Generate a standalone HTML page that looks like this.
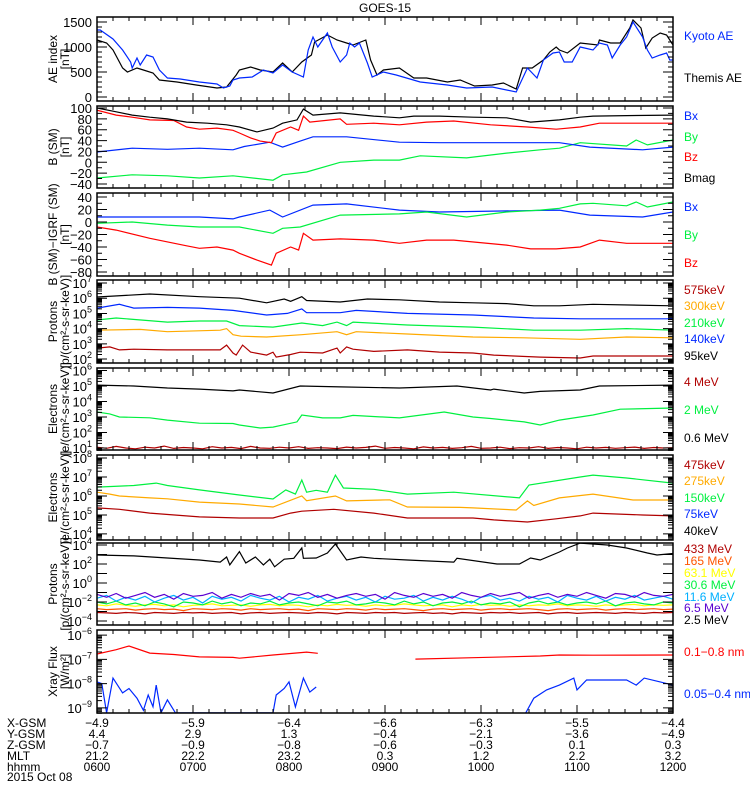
<!DOCTYPE html>
<html><head><meta charset="utf-8"><title>GOES-15</title>
<style>
html,body{margin:0;padding:0;background:#fff;}
svg{display:block;font-family:"Liberation Sans",sans-serif;}
</style></head>
<body>
<svg id="chart" width="750" height="800" viewBox="0 0 750 800" xmlns="http://www.w3.org/2000/svg">
<rect x="0" y="0" width="750" height="800" fill="#fff"/>
<text x="385" y="12" font-size="12" text-anchor="middle">GOES-15</text>
</svg>
<script>
// ---------- DATA (times are minutes after 06:00) ----------
const hourLabels = ["0600","0700","0800","0900","1000","1100","1200"];
const xgsm = ["-4.9","-5.9","-6.4","-6.6","-6.3","-5.5","-4.4"];
const ygsm = ["4.4","2.9","1.3","-0.4","-2.1","-3.6","-4.9"];
const zgsm = ["-0.7","-0.9","-0.8","-0.6","-0.3","0.1","0.3"];
const mlt = ["21.2","22.2","23.2","0.3","1.2","2.2","3.2"];

// Panel 1: AE
const kyotoT = [0,2,10,16,21,22,25,27,31,35,39,44,52,64,75,79,83,85,89,97,104,110,116,122,129,132,135,138,144,147,152,156,158,161,164,169,172,179,187,202,219,231,247,262,269,275,279,285,289,292,297,302,310,314,319,322,327,331,335,341,344,347,352,356,358,360];
const kyotoV = [1340,1340,1160,940,700,580,780,640,840,800,540,380,360,300,260,180,220,340,380,400,540,480,640,500,400,940,1200,1000,1280,1000,700,840,1080,1000,1080,680,400,500,440,300,240,180,200,100,580,380,740,880,900,700,700,1000,940,1080,1040,780,1040,1200,1500,1200,940,780,840,880,740,740];
const themisT = [0,6,10,16,19,25,29,35,39,50,62,75,81,87,89,96,102,110,116,122,128,134,136,144,150,156,160,168,171,175,179,189,198,206,219,227,236,247,254,262,266,272,279,283,287,289,294,302,313,314,321,327,333,335,340,343,347,352,356,360];
const themisV = [1140,1080,940,580,500,580,540,480,340,300,240,180,200,440,540,600,540,500,680,500,700,840,1100,1240,1140,1080,1040,1140,740,440,540,580,380,380,300,340,220,240,280,160,580,580,740,900,1000,940,880,1080,1040,1140,1080,1080,1380,1540,1380,980,1180,1280,1240,1040];

// Panel 2: B (SM)
const bmagT = [0,12,22,33,44,56,69,81,89,100,110,116,125,129,135,152,173,189,198,214,235,256,271,289,302,310,331,360];
const bmagV = [100,93,87,83,80,74,72,69,65,56,63,72,78,98,87,91,85,82,85,85,83,82,74,78,83,85,86,87];
const bzT = [0,12,22,33,48,56,64,75,85,89,96,102,109,112,121,126,129,133,152,156,173,189,206,223,246,269,287,302,314,335,360];
const bzV = [96,87,83,78,77,65,61,63,59,54,45,39,36,54,65,59,85,74,80,70,72,69,74,76,69,65,61,65,72,72,72];
const bxT = [0,22,44,64,85,92,108,116,127,135,156,189,214,256,289,308,341,360];
const bxV = [19,26,24,26,23,29,37,28,39,47,47,37,36,36,36,28,23,28];
const byT = [0,22,44,64,85,110,116,131,152,173,189,202,231,256,277,289,302,331,337,344,360];
const byV = [-29,-23,-25,-29,-25,-33,-23,-18,0,4,4,12,8,17,23,26,36,30,41,32,41];

// Panel 3: B - IGRF
const dbxT = [0,44,64,85,89,108,116,135,156,189,214,289,308,341,360];
const dbxV = [8,8,8,5,8,19,8,27,29,19,16,19,11,8,16];
const dbyT = [0,22,44,64,89,110,116,127,152,189,206,231,256,277,289,302,310,331,337,344,360];
const dbyV = [-2,0,-5,-8,-8,-18,-10,-8,11,13,16,8,16,19,22,29,30,26,32,24,32];
const dbzT = [0,12,33,56,64,75,85,89,100,109,112,121,126,129,135,152,173,189,206,223,256,271,287,302,314,331,360];
const dbzV = [-8,-13,-26,-38,-42,-40,-45,-50,-61,-69,-50,-40,-45,-18,-29,-27,-29,-34,-29,-29,-37,-43,-43,-40,-29,-34,-34];

// Panel 4: protons (log10 flux)
const p95T = [0,33,64,89,106,117,121,128,131,152,169,189,214,235,256,273,289,310,360];
const p95V = [6.08,6.28,6.1,6.0,5.7,5.95,5.8,6.1,5.85,5.75,5.95,5.9,5.75,5.7,5.65,5.5,5.5,5.6,5.5];
const p140T = [0,14,23,44,64,85,106,119,128,131,152,162,194,235,273,302,360];
const p140V = [5.35,5.6,5.35,5.4,5.35,5.2,4.9,5.0,5.3,5.05,5.05,5.2,5.0,4.9,4.7,4.65,4.65];
const p210T = [0,12,44,64,81,89,110,128,141,150,156,160,194,235,273,302,331,360];
const p210V = [4.57,4.7,4.43,4.5,4.5,4.2,4.1,4.37,4.2,4.43,4.2,4.43,4.24,4.1,3.9,3.9,4.0,3.9];
const p300T = [0,27,44,77,81,85,90,106,128,150,156,162,194,235,267,302,331,360];
const p300V = [3.9,3.95,3.8,3.9,4.0,3.6,3.5,3.45,3.6,3.8,3.6,3.8,3.65,3.45,3.4,3.3,3.45,3.4];
const p575T = [0,8,14,23,44,64,77,81,85,87,91,96,106,110,112,121,127,141,150,152,156,160,173,194,214,235,248,277,302,310,360];
const p575V = [2.72,2.8,2.6,2.65,2.6,2.6,2.6,2.92,2.4,2.26,2.92,2.46,2.26,2.45,2.13,2.3,2.45,2.4,2.72,2.4,2.8,2.65,2.5,2.6,2.46,2.4,2.26,2.13,2.07,2.2,2.2];

// Panel 5: electrons MeV (log10 flux)
const e06T = [0,23,44,64,85,89,110,127,152,189,225,246,248,267,277,302,314,360];
const e06V = [5.06,5.0,4.87,4.8,4.68,4.74,4.55,5.0,4.94,4.87,5.0,4.74,4.8,4.55,4.65,4.74,5.0,5.06];
const e2T = [0,8,14,33,44,64,85,89,102,110,125,128,141,152,160,189,217,235,246,267,277,289,310,327,360];
const e2V = [3.32,3.2,3.0,2.95,2.8,2.6,2.58,2.48,2.29,2.35,2.68,3.13,2.94,2.94,3.1,2.94,3.32,3.0,2.9,2.68,2.48,2.8,3.13,3.5,3.58];
const e4V = [1.05,0.98,1.1,1.0,0.95,1.05,1.0,1.12,0.97,1.03,1.0,0.95,1.08,1.0,1.04,0.96,1.1,1.0,0.98,1.05,1.0,1.08,0.97,1.02,1.0,0.96,1.06,1.0,1.04,1.12,0.98,1.03,1.0,0.95,1.07,1.0,1.04,0.97,1.02,1.1,0.98,1.0,1.05,0.96,1.02,1.0,1.08,0.97,1.03,1.0,0.95,1.05,1.0,1.04,0.98,1.02,1.06,0.97,1.03,1.0,1.02];

// Panel 6: electrons keV (log10 flux)
const e150T = [0,23,37,44,64,89,110,118,124,128,131,137,144,149,154,173,194,223,264,270,302,310,331,360];
const e150V = [6.47,6.55,6.68,6.55,6.32,6.05,5.84,6.32,6.1,6.84,6.2,6.3,6.2,7.1,6.42,6.35,6.1,6.2,5.9,6.58,7.0,7.1,6.95,6.68];
const e275T = [0,8,14,33,44,64,89,110,128,131,149,156,183,194,227,235,262,269,273,289,310,335,360];
const e275V = [6.2,6.1,6.0,5.9,5.85,5.68,5.58,5.42,6.0,5.75,6.0,5.74,5.8,5.42,5.4,5.37,5.26,5.74,5.5,5.9,6.1,5.79,5.79];
const e475T = [0,14,33,64,89,110,121,128,148,173,194,235,248,269,287,302,310,341,360];
const e475V = [5.37,5.3,5.1,4.9,4.84,4.84,5.1,5.2,5.3,5.1,4.84,4.84,4.74,4.63,4.8,4.95,5.1,5.0,4.95];

// Panel 7: protons MeV (log10 flux)
const p25T = [0,23,44,64,77,81,83,89,93,99,104,108,111,117,123,128,129,137,144,149,156,165,173,194,223,225,250,264,271,277,289,294,302,319,331,344,350,360];
const p25V = [2.95,2.85,2.63,2.42,2.2,2.74,1.9,3.3,2.1,2.74,1.9,2.5,1.7,2.5,2.6,3.68,2.6,2.63,3.16,4.1,2.42,2.74,2.6,2.42,2.2,2.6,2.0,2.0,2.63,2.42,3.26,3.68,4.2,4.0,3.68,3.16,2.95,3.1];
const p65V = [-1.2,-1.5,-1.1,-1.6,-1.3,-1.0,-1.5,-1.2,-1.7,-1.1,-1.4,-1.3,-1.0,-1.6,-1.2,-1.5,-1.1,-1.4,-1.2,-1.8,-1.1,-1.3,-1.0,-1.5,-1.2,-1.6,-1.3,-1.1,-1.4,-1.2,-1.7,-1.0,-1.3,-1.5,-1.1,-1.4,-1.2,-1.6,-1.0,-1.3,-1.5,-1.1,-1.4,-1.2,-1.0,-1.6,-1.3,-1.1,-1.5,-1.2,-1.4,-1.0,-1.3,-1.6,-1.1,-1.2,-1.5,-1.0,-1.3,-1.4,-1.2];
const p116V = [-1.6,-1.3,-1.9,-1.5,-1.8,-1.4,-2.0,-1.6,-1.3,-1.8,-1.5,-2.1,-1.4,-1.7,-1.5,-1.9,-1.3,-1.6,-1.8,-1.4,-2.0,-1.5,-1.7,-1.3,-1.9,-1.6,-1.4,-1.8,-1.5,-2.0,-1.4,-1.7,-1.6,-1.3,-1.9,-1.5,-1.8,-1.4,-1.7,-2.1,-1.5,-1.3,-1.8,-1.6,-1.9,-1.4,-1.7,-1.5,-2.0,-1.3,-1.6,-1.8,-1.4,-1.9,-1.5,-1.7,-1.3,-1.8,-1.6,-1.4,-1.7];
const p306V = [-2.0,-2.2,-1.9,-2.3,-2.1,-2.4,-2.0,-2.2,-2.5,-2.0,-2.1,-2.3,-1.9,-2.2,-2.0,-2.4,-2.1,-2.2,-1.9,-2.3,-2.1,-2.0,-2.2,-2.4,-2.0,-2.1,-1.9,-2.3,-2.2,-2.0,-2.1,-2.3,-1.9,-2.2,-2.0,-2.4,-2.1,-2.0,-2.2,-1.9,-2.3,-2.1,-2.2,-2.0,-2.5,-2.1,-1.9,-2.2,-2.0,-2.3,-2.1,-2.0,-2.2,-1.9,-2.4,-2.1,-2.0,-2.2,-2.3,-2.0,-2.1];
const p631V = [-2.3,-2.4,-2.2,-2.35,-2.45,-2.3,-2.25,-2.4,-2.3,-2.5,-2.35,-2.3,-2.2,-2.4,-2.35,-2.3,-2.45,-2.3,-2.25,-2.4,-2.3,-2.35,-2.5,-2.3,-2.4,-2.25,-2.35,-2.3,-2.45,-2.3,-2.4,-2.35,-2.2,-2.3,-2.4,-2.35,-2.3,-2.5,-2.3,-2.4,-2.25,-2.35,-2.3,-2.45,-2.3,-2.4,-2.3,-2.35,-2.2,-2.4,-2.3,-2.35,-2.45,-2.3,-2.4,-2.3,-2.25,-2.4,-2.3,-2.35,-2.3];
const p165V = [-2.7,-2.8,-2.75,-2.7,-2.85,-2.75,-2.7,-2.8,-2.75,-2.9,-2.7,-2.75,-2.8,-2.7,-2.75,-2.85,-2.7,-2.8,-2.75,-2.7,-2.8,-2.75,-2.9,-2.7,-2.75,-2.8,-2.7,-2.75,-2.85,-2.7,-2.8,-2.75,-2.7,-2.8,-2.9,-2.75,-2.7,-2.8,-2.75,-2.7,-2.85,-2.75,-2.7,-2.8,-2.75,-2.7,-2.8,-2.9,-2.75,-2.7,-2.8,-2.75,-2.7,-2.85,-2.75,-2.7,-2.8,-2.75,-2.7,-2.8,-2.75];
const p433V = [-3.1,-3.15,-3.2,-3.1,-3.15,-3.25,-3.1,-3.15,-3.2,-3.1,-3.15,-3.1,-3.2,-3.15,-3.1,-3.25,-3.15,-3.1,-3.2,-3.15,-3.1,-3.15,-3.2,-3.1,-3.15,-3.25,-3.1,-3.15,-3.2,-3.1,-3.15,-3.1,-3.2,-3.15,-3.1,-3.2,-3.15,-3.25,-3.1,-3.15,-3.2,-3.1,-3.15,-3.1,-3.2,-3.15,-3.1,-3.25,-3.15,-3.1,-3.2,-3.15,-3.1,-3.15,-3.2,-3.1,-3.15,-3.2,-3.1,-3.15,-3.1];
const noiseT = [0,6,12,18,24,30,36,42,48,54,60,66,72,78,84,90,96,102,108,114,120,126,132,138,144,150,156,162,168,174,180,186,192,198,204,210,216,222,228,234,240,246,252,258,264,270,276,282,288,294,300,306,312,318,324,330,336,342,348,354,360];

// Panel 8: X-ray (log10 W/m2), null = data gap
const xrLongT = [0,12,20,33,48,64,85,89,110,131,138,139,198,199,235,277,289,310,360];
const xrLongV = [-6.78,-6.6,-6.45,-6.74,-6.8,-6.9,-6.92,-6.95,-6.82,-6.7,-6.75,null,null,-6.99,-6.93,-6.86,-6.82,-6.83,-6.82];
const xrShortT = [0,3,6,10,16,20,25,29,32,35,37,40,44,49,110,112,117,120,124,129,133,137,138,267,268,273,281,289,298,300,306,331,337,342,352,360];
const xrShortV = [-7.93,-8.0,-9.2,-7.77,-8.38,-8.2,-8.6,-9.1,-8.47,-8.95,-8.06,-9.2,-8.67,-9.2,-9.2,-8.47,-8.2,-7.93,-8.96,-7.77,-8.35,-8.14,null,null,-9.2,-8.6,-8.26,-8.06,-7.77,-8.26,-7.85,-7.85,-8.06,-7.77,-7.93,-8.06];

// ---------- RENDERING ----------
const NS = 'http://www.w3.org/2000/svg';
const svg = document.getElementById('chart');
const X0 = 97, X1 = 673;
function xs(t){ return X0 + t/360*(X1-X0); }
function mk(tag, parent){ const e = document.createElementNS(NS, tag); parent.appendChild(e); return e; }

const C = {black:'#000', blue:'#0028ff', green:'#00f040', red:'#ff0000', dred:'#b00000', orange:'#ffaa00', ored:'#ff5500', yellow:'#ffff00', cyan:'#00b0ff', purple:'#5a00d0'};

const panels = [
 {id:'ae', top:17, bot:101, dmin:-80, dmax:1600, log:false, labels:[0,500,1000,1500], minor:100,
  title:['AE index','[nT]'],
  series:[[themisT,themisV,C.black,'themis-ae-line'],[kyotoT,kyotoV,C.blue,'kyoto-ae-line']],
  legend:[['Kyoto AE',C.blue,36],['Themis AE',C.black,78]]},
 {id:'bsm', top:106, bot:188, dmin:-47.4, dmax:103.7, log:false, labels:[-40,-20,0,20,40,60,80,100], minor:10,
  title:['B (SM)','[nT]'],
  series:[[byT,byV,C.green,'by-line'],[bxT,bxV,C.blue,'bx-line'],[bzT,bzV,C.red,'bz-line'],[bmagT,bmagV,C.black,'bmag-line']],
  legend:[['Bx',C.blue,116],['By',C.green,137],['Bz',C.red,157],['Bmag',C.black,178]]},
 {id:'digrf', top:193, bot:276, dmin:-86.4, dmax:46.4, log:false, labels:[-80,-60,-40,-20,0,20,40], minor:10,
  title:['B (SM)\u2212IGRF (SM)','[nT]'],
  series:[[dbxT,dbxV,C.blue,'dbx-line'],[dbyT,dbyV,C.green,'dby-line'],[dbzT,dbzV,C.red,'dbz-line']],
  legend:[['Bx',C.blue,207],['By',C.green,235],['Bz',C.red,263]]},
 {id:'protons-kev', top:280, bot:363, dmin:1.74, dmax:7.2, log:true, labels:[2,3,4,5,6,7],
  title:['Protons','[p/(cm\u00b2-s-sr-keV)]'],
  series:[[p575T,p575V,C.dred,'p575-line'],[p300T,p300V,C.orange,'p300-line'],[p210T,p210V,C.green,'p210-line'],[p140T,p140V,C.blue,'p140-line'],[p95T,p95V,C.black,'p95-line']],
  legend:[['575keV',C.dred,290],['300keV',C.orange,306],['210keV',C.green,323],['140keV',C.blue,339],['95keV',C.black,356]]},
 {id:'electrons-mev', top:368, bot:450, dmin:0.87, dmax:6.16, log:true, labels:[1,2,3,4,5,6],
  title:['Electrons','[e/(cm\u00b2-s-sr-keV)]'],
  series:[[noiseT,e4V,C.dred,'e4-line'],[e2T,e2V,C.green,'e2-line'],[e06T,e06V,C.black,'e06-line']],
  legend:[['4 MeV',C.dred,382],['2 MeV',C.green,410],['0.6 MeV',C.black,438]]},
 {id:'electrons-kev', top:455, bot:540, dmin:3.68, dmax:8.16, log:true, labels:[4,5,6,7,8],
  title:['Electrons','[e/(cm\u00b2-s-sr-keV)]'],
  series:[[e475T,e475V,C.dred,'e475-line'],[e275T,e275V,C.orange,'e275-line'],[e150T,e150V,C.green,'e150-line']],
  legend:[['475keV',C.dred,465],['275keV',C.orange,481],['150keV',C.green,498],['75keV',C.blue,514],['40keV',C.black,531]]},
 {id:'protons-mev', top:543, bot:625, dmin:-4.42, dmax:4.21, log:true, labels:[-4,-2,0,2,4], minorOff:true,
  title:['Protons','[p/(cm\u00b2-s-sr-keV)]'],
  series:[[noiseT,p433V,C.dred,'p433-line'],[noiseT,p165V,C.ored,'p165-line'],[noiseT,p631V,C.yellow,'p631-line'],[noiseT,p306V,C.green,'p306-line'],[noiseT,p116V,C.cyan,'p116-line'],[noiseT,p65V,C.purple,'p65-line'],[p25T,p25V,C.black,'p25-line']],
  legend:[['433 MeV',C.dred,549],['165 MeV',C.ored,561],['63.1 MeV',C.yellow,573],['30.6 MeV',C.green,585],['11.6 MeV',C.cyan,597],['6.5 MeV',C.purple,608],['2.5 MeV',C.black,620]]},
 {id:'xray', top:630, bot:713, dmin:-9.21, dmax:-5.79, log:true, labels:[-9,-8,-7,-6],
  title:['Xray Flux','[W/m\u00b2]'],
  series:[[xrLongT,xrLongV,C.red,'xray-long-line'],[xrShortT,xrShortV,C.blue,'xray-short-line']],
  legend:[['0.1\u22120.8 nm',C.red,652],['0.05\u22120.4 nm',C.blue,694]]}
];

panels.forEach(function(p, pi){
  const ys = function(v){ return p.bot - (v - p.dmin)/(p.dmax - p.dmin)*(p.bot - p.top); };
  const g = mk('g', svg);
  
  

  // clip
  const cp = mk('clipPath', g);
  cp.setAttribute('id', 'clip' + pi);
  const cr = mk('rect', cp);
  cr.setAttribute('x', X0); cr.setAttribute('y', p.top);
  cr.setAttribute('width', X1 - X0); cr.setAttribute('height', p.bot - p.top);

  // series
  const sg = mk('g', g);
  sg.setAttribute('clip-path', 'url(#clip' + pi + ')');
  p.series.forEach(function(s){
    const ts = s[0], vs = s[1];
    let d = '', pen = false;
    const n = Math.min(ts.length, vs.length);
    for (let i = 0; i < n; i++){
      if (vs[i] === null){ pen = false; continue; }
      d += (pen ? 'L' : 'M') + xs(ts[i]).toFixed(1) + ' ' + ys(vs[i]).toFixed(1);
      pen = true;
    }
    const path = mk('path', sg);
    path.setAttribute('d', d);
    path.setAttribute('fill', 'none');
    path.setAttribute('stroke', s[2]);
    path.setAttribute('stroke-width', '1.2');
    
    
  });

  // frame
  const fr = mk('rect', g);
  fr.setAttribute('x', X0); fr.setAttribute('y', p.top);
  fr.setAttribute('width', X1 - X0); fr.setAttribute('height', p.bot - p.top);
  fr.setAttribute('fill', 'none'); fr.setAttribute('stroke', '#000'); fr.setAttribute('stroke-width', '1.5');
  
  

  // ticks
  let td = '';
  for (let m = 0; m <= 360; m += 10){
    const x = xs(m), L = (m % 60 === 0) ? 8 : 4;
    td += 'M' + x + ' ' + p.bot + 'v' + (-L) + 'M' + x + ' ' + p.top + 'v' + L;
  }
  function ytick(v, L){ const y = ys(v); if (y < p.top - 0.5 || y > p.bot + 0.5) return; td += 'M' + X0 + ' ' + y + 'h' + L + 'M' + X1 + ' ' + y + 'h' + (-L); }
  if (p.log){
    for (let dcd = Math.floor(p.dmin); dcd <= Math.ceil(p.dmax); dcd++){
      ytick(dcd, 10);
      if (!p.minorOff) for (let k = 2; k <= 9; k++) ytick(dcd + Math.log10(k), 5);
    }
  } else {
    for (let v = Math.ceil(p.dmin / p.minor) * p.minor; v <= p.dmax; v += p.minor){
      ytick(v, p.labels.indexOf(v) >= 0 ? 10 : 5);
    }
  }
  const tk = mk('path', g);
  tk.setAttribute('d', td); tk.setAttribute('stroke', '#000'); tk.setAttribute('stroke-width', '1');
  
  

  // tick labels
  p.labels.forEach(function(v){
    const t = mk('text', g);
    t.setAttribute('x', 92); t.setAttribute('y', ys(v) + 5);
    t.setAttribute('text-anchor', 'end'); t.setAttribute('font-size', '13');
    
    
    if (p.log){
      t.textContent = '10';
      const sp = mk('tspan', t);
      sp.setAttribute('dy', '-6'); sp.setAttribute('font-size', '9');
      sp.textContent = String(v).replace('-', '\u2212');
    } else {
      t.textContent = String(v).replace('-', '\u2212');
    }
  });

  // y title
  const cy = (p.top + p.bot) / 2;
  p.title.forEach(function(line, li){
    const t = mk('text', g);
    const x = li === 0 ? 57 : 69;
    t.setAttribute('x', x); t.setAttribute('y', cy);
    t.setAttribute('text-anchor', 'middle'); t.setAttribute('font-size', '12');
    t.setAttribute('transform', 'rotate(-90 ' + x + ' ' + cy + ')');
    
    
    t.textContent = line;
  });

  // legend
  p.legend.forEach(function(l){
    const t = mk('text', g);
    t.setAttribute('x', 684); t.setAttribute('y', l[2] + 4);
    t.setAttribute('font-size', '12'); t.setAttribute('fill', l[1]);
    
    
    t.textContent = l[0];
  });
});

// bottom ephemeris table
const rows = [['X-GSM', xgsm, 727], ['Y-GSM', ygsm, 738], ['Z-GSM', zgsm, 749], ['MLT', mlt, 760], ['hhmm', hourLabels, 771]];
rows.forEach(function(r){
  const h = mk('text', svg);
  h.setAttribute('x', 7); h.setAttribute('y', r[2]); h.setAttribute('font-size', '12');
  
  
  h.textContent = r[0];
  r[1].forEach(function(v, i){
    const t = mk('text', svg);
    t.setAttribute('x', xs(i * 60)); t.setAttribute('y', r[2]);
    t.setAttribute('font-size', '12'); t.setAttribute('text-anchor', 'middle');
    
    
    t.textContent = v.replace('-', '\u2212');
  });
});
const dt = mk('text', svg);
dt.setAttribute('x', 7); dt.setAttribute('y', 781); dt.setAttribute('font-size', '12');


dt.textContent = '2015 Oct 08';
</script>
</body></html>
